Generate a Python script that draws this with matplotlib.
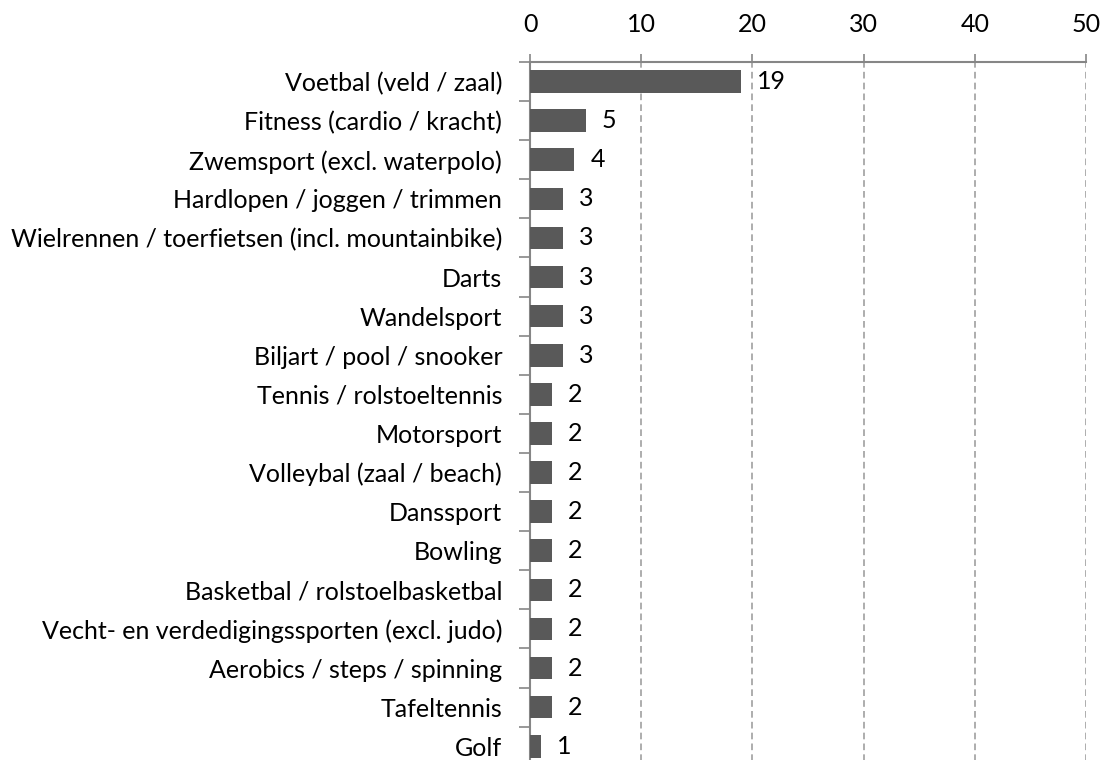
import matplotlib
matplotlib.use("Agg")
import matplotlib.pyplot as plt
from matplotlib.ticker import FixedLocator

categories = [
    "Voetbal (veld / zaal)",
    "Fitness (cardio / kracht)",
    "Zwemsport (excl. waterpolo)",
    "Hardlopen / joggen / trimmen",
    "Wielrennen / toerfietsen (incl. mountainbike)",
    "Darts",
    "Wandelsport",
    "Biljart / pool / snooker",
    "Tennis / rolstoeltennis",
    "Motorsport",
    "Volleybal (zaal / beach)",
    "Danssport",
    "Bowling",
    "Basketbal / rolstoelbasketbal",
    "Vecht- en verdedigingssporten (excl. judo)",
    "Aerobics / steps / spinning",
    "Tafeltennis",
    "Golf",
]
values = [19, 5, 4, 3, 3, 3, 3, 3, 2, 2, 2, 2, 2, 2, 2, 2, 2, 1]
xticks = [0, 10, 20, 30, 40, 50]

plt.rcParams['font.family'] = ['Lato', 'DejaVu Sans']
FS = 18

W, H = 1101, 760
fig = plt.figure(figsize=(W / 100, H / 100), dpi=100)
left, right, top = 530, 1086, 62
n = len(categories)
step = 39.1
bottom = top + n * step
ax = fig.add_axes([left / W, 1 - bottom / H, (right - left) / W, (bottom - top) / H])

ypos = list(range(n))
ax.barh(ypos, values, height=0.58, color="#595959", zorder=3)
for y, v in zip(ypos, values):
    ax.annotate(str(v), xy=(v, y), xytext=(16, 0), textcoords="offset pixels",
                ha="left", va="center", fontsize=FS, color="black")

ax.set_xlim(0, 50)
ax.set_ylim(n - 0.5, -0.5)
ax.xaxis.tick_top()
ax.set_xticks(xticks)
ax.set_xticklabels([str(t) for t in xticks], fontsize=FS)
ax.tick_params(axis="x", length=6, width=1.2, color="#868686", pad=13)

ax.set_yticks(ypos)
ax.set_yticklabels(categories, fontsize=FS)
ax.tick_params(axis="y", which="major", length=0, pad=20)
ax.yaxis.set_minor_locator(FixedLocator([i - 0.5 for i in range(n + 1)]))
ax.tick_params(axis="y", which="minor", length=8, width=1.2, color="#868686")

ax.grid(axis="x", linestyle=(0, (4, 2.5)), color="#a0a0a0", linewidth=1.2, zorder=0)
for s in ["right", "bottom"]:
    ax.spines[s].set_visible(False)
for s in ["top", "left"]:
    ax.spines[s].set_color("#868686")
    ax.spines[s].set_linewidth(1.5)

fig.savefig("out.png", dpi=100)
